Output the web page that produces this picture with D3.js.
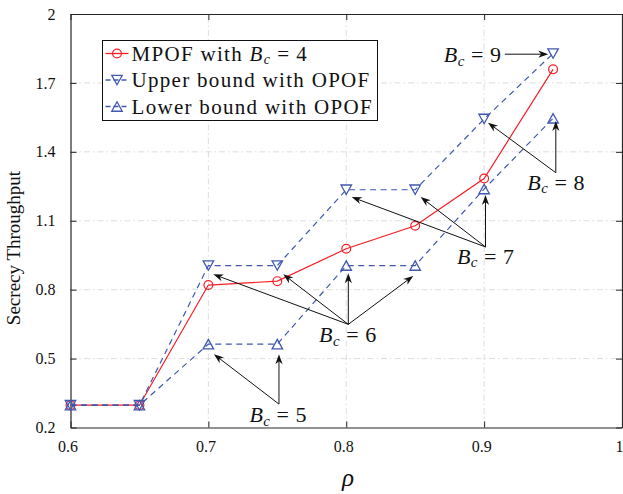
<!DOCTYPE html>
<html>
<head>
<meta charset="utf-8">
<script src="https://cdn.jsdelivr.net/npm/d3@7/dist/d3.min.js"></script>
<style>
  body { margin: 0; background: #fff; }
  svg text { font-family: 'Liberation Serif', 'Times New Roman', serif; fill: #111; }
</style>
</head>
<body>
<div id="chart"></div>
<script>
const rho = [0.6, 0.65, 0.7, 0.75, 0.8, 0.85, 0.9, 0.95];
const mpof = [0.297, 0.297, 0.82, 0.837, 0.978, 1.078, 1.284, 1.759];
const upperOpof = [0.297, 0.297, 0.905, 0.905, 1.235, 1.235, 1.543, 1.828];
const lowerOpof = [0.297, 0.297, 0.563, 0.563, 0.905, 0.905, 1.238, 1.546];
const xTicks = [0.6, 0.7, 0.8, 0.9, 1];
const yTicks = [0.2, 0.5, 0.8, 1.1, 1.4, 1.7, 2];
const legendNames = ['MPOF with ', 'Upper bound with OPOF', 'Lower bound with OPOF'];

// annotations, in data units: label value, text centre, arrow tail, arrow heads
const annValues = [9, 8, 7, 6, 5];
const annText = [[0.8915, 1.791], [0.952, 1.234], [0.901, 0.912], [0.801, 0.572], [0.7505, 0.224]];
const annTail = [[0.915, 1.825], [0.952, 1.309], [0.901, 0.986], [0.8015, 0.649], [0.7512, 0.302]];
const annHeads = [
  [[0.9465, 1.825]],
  [[0.9028, 1.527], [0.952, 1.534]],
  [[0.804, 1.203], [0.854, 1.203], [0.901, 1.212]],
  [[0.7036, 0.867], [0.7543, 0.867], [0.8015, 0.871], [0.8486, 0.86]],
  [[0.704, 0.519], [0.7512, 0.519]]
];

const W = 623, H = 494;
const margin = {left: 70.5, top: 14, right: 1, bottom: 66.5};
const red = '#f51e26', blue = '#4158b0', axisColor = '#262626';
const serif = "'Liberation Serif', 'Times New Roman', serif";

const svg = d3.select('#chart').append('svg').attr('width', W).attr('height', H);

const x = d3.scaleLinear().domain([0.6, 1]).range([margin.left, W - margin.right]);
const y = d3.scaleLinear().domain([0.2, 2]).range([H - margin.bottom, margin.top]);
const fmt = d => (d === 1 || d === 2) ? String(d) : d.toFixed(1);

// grid
let grid = svg.append('g').attr('stroke', '#d6d6d6').attr('stroke-width', 0.8).attr('stroke-dasharray', '6,3,1.5,3');
grid.selectAll('.gx').data(xTicks.slice(1, -1)).enter().append('line')
  .attr('x1', d => x(d)).attr('x2', d => x(d)).attr('y1', y(0.2)).attr('y2', y(2));
grid.selectAll('.gy').data(yTicks.slice(1, -1)).enter().append('line')
  .attr('y1', d => y(d)).attr('y2', d => y(d)).attr('x1', x(0.6)).attr('x2', x(1));

// axes with inward ticks
let xAxis = svg.append('g').attr('transform', 'translate(0,' + y(0.2) + ')')
  .call(d3.axisBottom(x).tickValues(xTicks).tickFormat(fmt).tickSizeInner(-6).tickSizeOuter(0).tickPadding(13));
let xTop = svg.append('g').attr('transform', 'translate(0,' + y(2) + ')')
  .call(d3.axisTop(x).tickValues(xTicks).tickFormat('').tickSizeInner(-6).tickSizeOuter(0));
let yAxis = svg.append('g').attr('transform', 'translate(' + x(0.6) + ',0)')
  .call(d3.axisLeft(y).tickValues(yTicks).tickFormat(fmt).tickSizeInner(-6).tickSizeOuter(0).tickPadding(15));
let yRight = svg.append('g').attr('transform', 'translate(' + x(1) + ',0)')
  .call(d3.axisRight(y).tickValues(yTicks).tickFormat('').tickSizeInner(-6).tickSizeOuter(0));
[xAxis, xTop, yAxis, yRight].forEach(function(a) {
  a.attr('font-family', serif);
  a.selectAll('line').attr('stroke', axisColor);
  a.selectAll('.domain').attr('stroke', axisColor).attr('stroke-width', 1.2);
  a.selectAll('text').style('font-size', '16px').attr('fill', axisColor).style('font-family', serif);
});
xAxis.selectAll('text').attr('dx', -3);

// axis titles
svg.append('text').attr('x', 348).attr('y', 486).attr('text-anchor', 'middle')
  .style('font-size', '25px').style('font-style', 'italic').text('ρ');
svg.append('text').attr('transform', 'translate(20,' + 248 + ') rotate(-90)').attr('text-anchor', 'middle')
  .style('font-size', '19px').text('Secrecy Throughput');

// series
let series = [
  {values: mpof, color: red, dash: null, marker: 'circle'},
  {values: upperOpof, color: blue, dash: '6,4.5', marker: 'down'},
  {values: lowerOpof, color: blue, dash: '6,4.5', marker: 'up'}
];
let line = d3.line().x((d, i) => x(rho[i])).y(d => y(d));

let triPath = function(dir, s) {
  let h = s * 0.9;
  if (dir === 'down') return 'M' + (-s / 2) + ',' + (-h / 2) + 'L' + (s / 2) + ',' + (-h / 2) + 'L0,' + (h / 2) + 'Z';
  return 'M' + (-s / 2) + ',' + (h / 2) + 'L' + (s / 2) + ',' + (h / 2) + 'L0,' + (-h / 2) + 'Z';
};

let drawMarker = function(g, s, cx, cy) {
  if (s.marker === 'circle') {
    g.append('circle').attr('cx', cx).attr('cy', cy).attr('r', 4.4)
      .attr('fill', 'none').attr('stroke', s.color).attr('stroke-width', 1.2);
  } else {
    g.append('path').attr('d', triPath(s.marker, 10.5)).attr('transform', 'translate(' + cx + ',' + cy + ')')
      .attr('fill', 'none').attr('stroke', s.color).attr('stroke-width', 1.3);
  }
};

series.forEach(function(s) {
  let g = svg.append('g');
  g.append('path').attr('d', line(s.values)).attr('fill', 'none').attr('stroke', s.color)
    .attr('stroke-width', 1.2).attr('stroke-dasharray', s.dash);
  s.values.forEach(function(v, i) { drawMarker(g, s, x(rho[i]), y(v)); });
});

// annotations
let arrowHead = function(x0, y0, x1, y1) {
  let a = Math.atan2(y1 - y0, x1 - x0), L = 10, w = 3.6, n = 7;
  let p = function(l, o) {
    return [x1 - l * Math.cos(a) - o * Math.sin(a), y1 - l * Math.sin(a) + o * Math.cos(a)];
  };
  let pts = [[x1, y1], p(L, w), p(n, 0), p(L, -w)];
  return 'M' + pts.map(q => q.join(',')).join('L') + 'Z';
};

let mathLabel = function(g, cx, by, size, value, anchor) {
  let t = g.append('text').attr('x', cx).attr('y', by).attr('text-anchor', anchor)
    .style('font-size', size + 'px').style('font-family', serif);
  t.append('tspan').style('font-style', 'italic').text('B');
  t.append('tspan').style('font-style', 'italic').style('font-size', (size * 0.68) + 'px').attr('dy', size * 0.16).attr('dx', 0.5).text('c');
  t.append('tspan').attr('dy', -size * 0.16).attr('dx', size * 0.3).text('=');
  t.append('tspan').attr('dx', size * 0.3).text(value);
  return t;
};

let ann = svg.append('g');
annValues.forEach(function(v, k) {
  let tx = x(annTail[k][0]), ty = y(annTail[k][1]);
  annHeads[k].forEach(function(h) {
    let hx = x(h[0]), hy = y(h[1]);
    let a = Math.atan2(hy - ty, hx - tx);
    ann.append('line').attr('x1', tx).attr('y1', ty)
      .attr('x2', hx - 6 * Math.cos(a)).attr('y2', hy - 6 * Math.sin(a))
      .attr('stroke', '#111').attr('stroke-width', 1);
    ann.append('path').attr('d', arrowHead(tx, ty, hx, hy)).attr('fill', '#111');
  });
  mathLabel(ann, x(annText[k][0]), y(annText[k][1]), 22, v, 'middle');
});

// legend
let lg = svg.append('g').attr('transform', 'translate(102.5,40.5)');
lg.append('rect').attr('width', 275).attr('height', 80).attr('fill', '#fff').attr('stroke', '#111').attr('stroke-width', 1);
series.forEach(function(s, i) {
  let cy = 13 + i * 26.5;
  lg.append('line').attr('x1', 3).attr('x2', 26).attr('y1', cy).attr('y2', cy)
    .attr('stroke', s.color).attr('stroke-width', 1.3).attr('stroke-dasharray', s.dash ? '5,3' : null);
  drawMarker(lg, s, 14.5, cy);
  let t = lg.append('text').attr('x', 29).attr('y', cy + 7).style('font-size', '21px').style('letter-spacing', '1.3px')
    .text(legendNames[i]);
  if (i === 0) {
    t.append('tspan').style('font-style', 'italic').text('B');
    t.append('tspan').style('font-style', 'italic').style('font-size', '14px').attr('dy', 3.5).text('c');
    t.append('tspan').attr('dy', -3.5).attr('dx', 6).text('=');
    t.append('tspan').attr('dx', 6).text('4');
  }
});
</script>
</body>
</html>
